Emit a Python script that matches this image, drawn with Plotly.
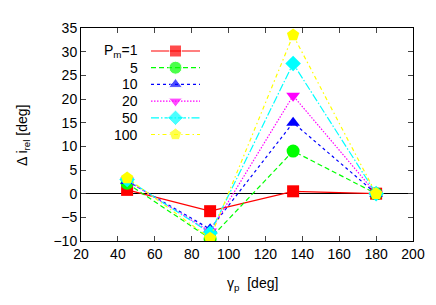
import plotly.graph_objects as go

gamma_p = [45, 90, 135, 180]
labels = ["P<sub>m</sub>=1", "5", "10", "20", "50", "100"]
s1 = [0.8, -3.7, 0.5, 0.0]
s5 = [2.2, -9.5, 9.0, 0.0]
s10 = [2.7, -7.5, 15.0, 0.0]
s20 = [2.8, -8.0, 20.7, 0.0]
s50 = [3.0, -8.3, 27.5, 0.0]
s100 = [3.3, -9.4, 33.5, 0.0]
series = [s1, s5, s10, s20, s50, s100]

colors = ["#ff0000", "#00ff00", "#0000ff", "#ff00ff", "#00ffff", "#ffff00"]
dashes = ["solid", "5px,3px", "3px,3px", "1.5px,1.5px", "8px,2px,1.5px,2px", "4px,3px,1.5px,3px"]
symbols = ["square", "circle", "triangle-up", "triangle-down", "diamond", "pentagon"]
sizes = [12, 13, 12, 12, 12, 13]

L, R, T, B = 73, 405, 20, 233
W, H = 436, 305


def px(x):
    return (x - L) / (R - L)


def py(y):
    return 1 - (y - T) / (B - T)


fig = go.Figure()
for i, (ys, c, d, s, sz) in enumerate(zip(series, colors, dashes, symbols, sizes)):
    fig.add_trace(go.Scatter(x=gamma_p, y=ys, mode="lines+markers",
                             line=dict(color=c, width=1.2, dash=d),
                             marker=dict(symbol=s, size=sz, color=c),
                             showlegend=False))
    # legend key on an auxiliary axis
    fig.add_trace(go.Scatter(x=[0, 0.5, 1], y=[i, i, i], mode="lines+markers",
                             line=dict(color=c, width=1.2, dash=d),
                             marker=dict(symbol=s, size=[0, sz, 0], color=c),
                             xaxis="x2", yaxis="y2", showlegend=False,
                             hoverinfo="skip"))

font = dict(family="Liberation Sans, Arial, sans-serif", size=14, color="black")

# legend texts
row_h = 16.7
for i, lab in enumerate(labels):
    fig.add_annotation(text=lab, xref="paper", yref="paper",
                       x=px(132), y=py(43 + i * row_h),
                       xanchor="right", yanchor="middle", showarrow=False,
                       font=font)

# axis titles
fig.add_annotation(text="γ<sub>p</sub>  [deg]", xref="paper", yref="paper",
                   x=px(244), y=py(276), xanchor="center", yanchor="middle",
                   showarrow=False, font=font)
fig.add_annotation(text="Δ i<sub>rel</sub> [deg]", xref="paper", yref="paper",
                   x=px(15), y=py(127), xanchor="center", yanchor="middle",
                   textangle=-90, showarrow=False, font=font)

hidden = dict(visible=False, showticklabels=False, ticks="", showline=False,
              showgrid=False, zeroline=False, fixedrange=True)

fig.update_layout(
    width=W, height=H,
    margin=dict(l=L, r=W - R, t=T, b=H - B),
    plot_bgcolor="white", paper_bgcolor="white",
    font=font,
    xaxis=dict(range=[20, 200], dtick=20, tick0=20, ticks="inside", ticklen=5,
               mirror="ticks", showline=True, linecolor="black", linewidth=1,
               showgrid=False, zeroline=False),
    yaxis=dict(range=[-10, 35], dtick=5, ticks="inside", ticklen=5,
               mirror="ticks", showline=True, linecolor="black", linewidth=1,
               showgrid=False, zeroline=True, zerolinecolor="black", zerolinewidth=1),
    xaxis2=dict(domain=[px(143), px(192)], range=[0, 1], anchor="y2", **hidden),
    yaxis2=dict(domain=[py(43 + 5.5 * row_h), py(43 - 0.5 * row_h)],
                range=[5.5, -0.5], anchor="x2", **hidden),
)

fig.write_html("out.html")
